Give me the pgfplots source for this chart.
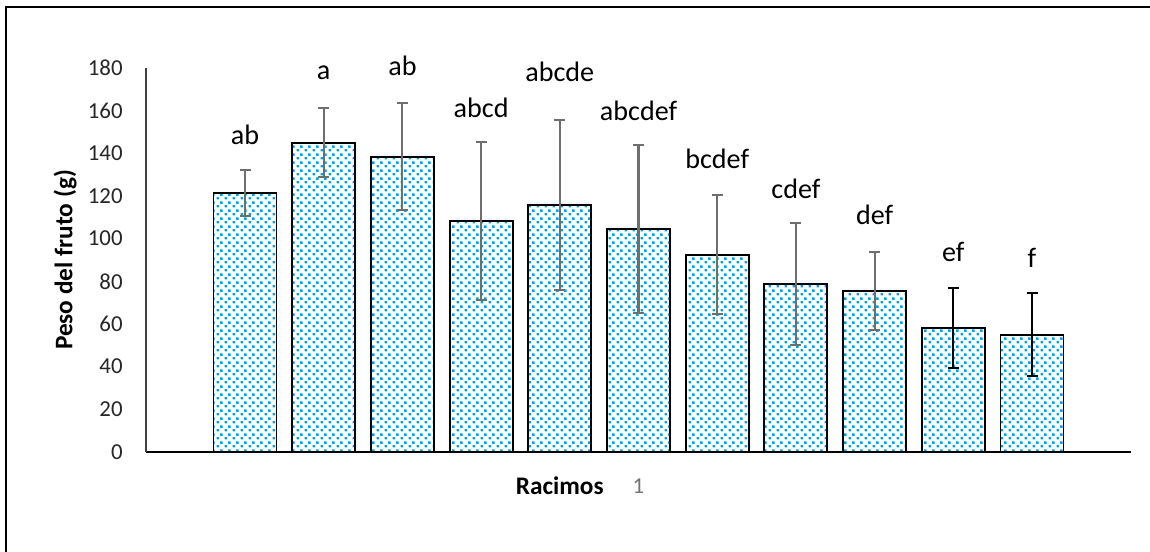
\documentclass[border=0pt]{standalone}
\usepackage{fontspec}
\setmainfont{Carlito}
\usepackage{pgfplots}
\pgfplotsset{compat=1.18}
\usepackage{pgfplotstable}
\usetikzlibrary{patterns}

\definecolor{dotblue}{RGB}{0,160,230}
\definecolor{errgray}{RGB}{110,110,110}

% staggered square dots
\pgfdeclarepatternformonly{bluedots}{\pgfpointorigin}{\pgfpoint{1.6mm}{1.6mm}}{\pgfpoint{1.6mm}{1.6mm}}{%
  \pgfpathrectangle{\pgfpoint{0.12mm}{0.12mm}}{\pgfpoint{0.55mm}{0.55mm}}%
  \pgfpathrectangle{\pgfpoint{0.92mm}{0.92mm}}{\pgfpoint{0.55mm}{0.55mm}}%
  \pgfusepath{fill}}

% bunch, mean fruit weight, standard deviation
\pgfplotstableread{
x  y      e
1  121.5  10.7
2  145.0  16.2
3  138.4  25.1
4  108.3  37.1
5  115.8  39.9
6  104.5  39.5
7  92.4   27.9
8  78.9   28.6
9  75.5   18.4
}\gray
\pgfplotstableread{
x  y      e
10 58.1   18.8
11 55.0   19.4
}\black

\begin{document}
\begin{tikzpicture}
\useasboundingbox (0,0) rectangle (23,11.04);
% chart frame
\draw[line width=0.4mm, black] (0.114,0) -- (0.114,10.9) -- (23,10.9);
\begin{axis}[
  at={(2.92cm,2.0cm)}, anchor=south west,
  scale only axis, width=19.7cm, height=7.68cm,
  xmin=-0.258, xmax=12.258, ymin=0, ymax=180,
  ytick={0,20,...,180}, xtick=\empty,
  axis x line=bottom, axis y line=left,
  x axis line style={-, black, line width=0.9pt},
  y axis line style={-, black!75, line width=0.6pt},
  major tick length=0pt,
  /pgf/number format/assume math mode=true,
  yticklabel style={font=\fontsize{13}{15}\selectfont, anchor=east, inner sep=0pt, xshift=-4.6mm, text=black!85},
  clip=false,
  ybar, bar width=0.8, bar shift=0pt,
]
\addplot[draw=black, line width=1.1pt, pattern=bluedots, pattern color=dotblue,
  error bars/.cd, y dir=both, y explicit,
  error bar style={line width=1.2pt, errgray},
  error mark options={rotate=90, mark size=1.1mm, line width=1.2pt, errgray}]
  table[x=x, y=y, y error=e] {\gray};
\addplot[draw=black, line width=1.1pt, pattern=bluedots, pattern color=dotblue,
  error bars/.cd, y dir=both, y explicit,
  error bar style={line width=1.2pt, black},
  error mark options={rotate=90, mark size=1.1mm, line width=1.2pt, black}]
  table[x=x, y=y, y error=e] {\black};

% significance letters
\begin{scope}[every node/.style={anchor=base, inner sep=0pt, font=\fontsize{16}{18}\selectfont}]
\node at (axis cs:1,144.0) {ab};
\node at (axis cs:2,174.4) {a};
\node at (axis cs:3,176.3) {ab};
\node at (axis cs:4,157.0) {abcd};
\node at (axis cs:5,173.6) {abcde};
\node at (axis cs:6,155.2) {abcdef};
\node at (axis cs:7,132.7) {bcdef};
\node at (axis cs:8,118.9) {cdef};
\node at (axis cs:9,106.7) {def};
\node at (axis cs:10,89.1) {ef};
\node at (axis cs:11,86.7) {f};
\end{scope}

\node[font=\fontsize{14.4}{16}\selectfont\bfseries, rotate=90, anchor=center]
  at (axis description cs:-0.082,0.5) {Peso del fruto (g)};
\node[font=\fontsize{14.4}{16}\selectfont\bfseries, anchor=center]
  at (axis description cs:0.420,-0.0885) {Racimos};
\node[font=\fontsize{13}{15}\selectfont, text=black!55, anchor=center]
  at (axis description cs:0.5,-0.0885) {1};
\end{axis}
\end{tikzpicture}
\end{document}
